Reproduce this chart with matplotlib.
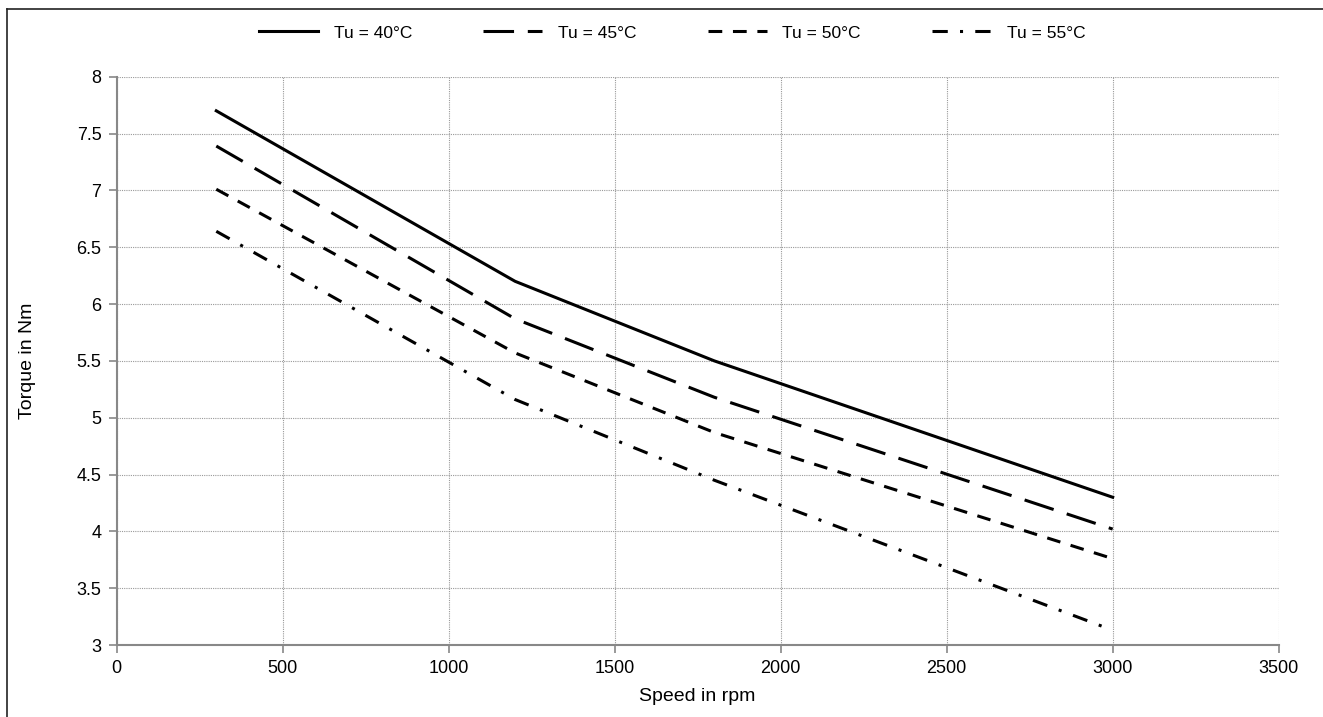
import matplotlib.pyplot as plt
from matplotlib.lines import Line2D

plt.rcParams['font.family'] = ['Liberation Sans', 'DejaVu Sans']

speed = [300, 1200, 1800, 3000]
torque_40 = [7.70, 6.20, 5.50, 4.30]
torque_45 = [7.39, 5.87, 5.18, 4.02]
torque_50 = [7.01, 5.57, 4.87, 3.76]
torque_55 = [6.64, 5.16, 4.45, 3.13]
labels = ['Tu = 40°C', 'Tu = 45°C', 'Tu = 50°C', 'Tu = 55°C']

x_ticks = [0, 500, 1000, 1500, 2000, 2500, 3000, 3500]
y_ticks = [3, 3.5, 4, 4.5, 5, 5.5, 6, 6.5, 7, 7.5, 8]
y_tick_labels = ['3', '3.5', '4', '4.5', '5', '5.5', '6', '6.5', '7', '7.5', '8']

W, H = 1323, 717
fig = plt.figure(figsize=(W / 100, H / 100), dpi=100)
ax = fig.add_axes([0.0882, 0.1004, 0.9665 - 0.0882, 0.893 - 0.1004])

# outer frame: only top and left edges show in the original
fx, fy = 6.5 / W, 1 - 9 / H
fig.add_artist(Line2D([fx, 1.0], [fy, fy], transform=fig.transFigure,
                      color='#222222', linewidth=1.2))
fig.add_artist(Line2D([fx, fx], [0.0, fy], transform=fig.transFigure,
                      color='#222222', linewidth=1.2))

styles = ['-', (0, (10, 4.5)), (0, (4.5, 3.5)), (0, (5, 4, 1, 4))]
series = [torque_40, torque_45, torque_50, torque_55]
for vals, ls, lab in zip(series, styles, labels):
    ax.plot(speed, vals, color='black', linewidth=2.2, linestyle=ls,
            label=lab, dash_capstyle='butt', solid_joinstyle='miter')

ax.set_xlim(0, 3500)
ax.set_ylim(3, 8)
ax.set_xticks(x_ticks)
ax.set_yticks(y_ticks)
ax.set_yticklabels(y_tick_labels)
ax.tick_params(axis='both', labelsize=13, color='#888888', length=6,
               width=1.2, direction='out', pad=5)

ax.grid(True, color='#999999', linestyle=(0, (1, 1)), linewidth=0.8)
for s in ['top', 'right']:
    ax.spines[s].set_visible(False)
for s in ['left', 'bottom']:
    ax.spines[s].set_color('#888888')
    ax.spines[s].set_linewidth(1.5)

ax.set_xlabel('Speed in rpm', fontsize=14)
ax.set_ylabel('Torque in Nm', fontsize=14)
ax.xaxis.set_label_coords(0.5, -0.0757)
ax.yaxis.set_label_coords(-0.0695, 0.5)

fig.legend(loc='center', bbox_to_anchor=(0.508, 0.954), ncol=4,
           frameon=False, fontsize=12.5, handlelength=3.4,
           handletextpad=0.9, columnspacing=4.1)

fig.savefig('out.png', dpi=100)
